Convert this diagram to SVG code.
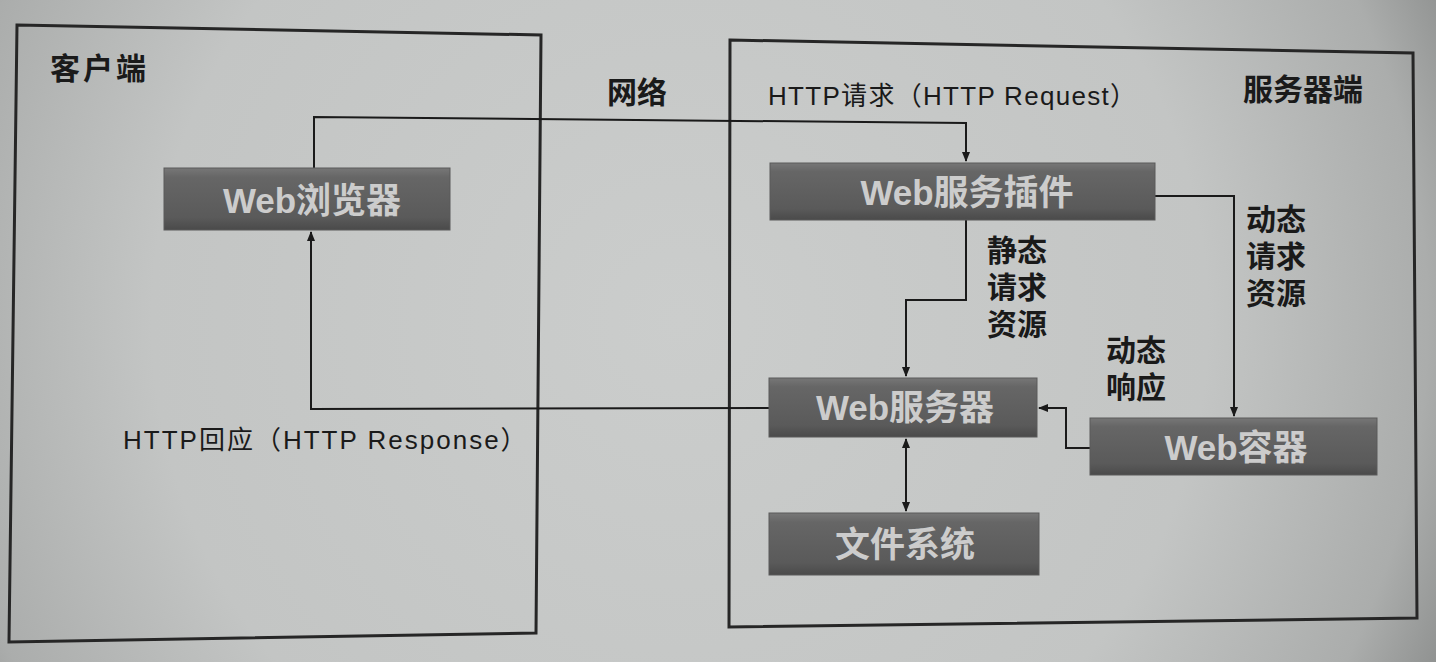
<svg xmlns="http://www.w3.org/2000/svg" width="1436" height="662" viewBox="0 0 1436 662">
<defs>
<radialGradient id="bg" gradientUnits="userSpaceOnUse" cx="680" cy="320" r="880">
<stop offset="0" stop-color="#cbcdcc"/>
<stop offset="0.6" stop-color="#c3c5c4"/>
<stop offset="0.85" stop-color="#abadac"/>
<stop offset="1" stop-color="#808281"/>
</radialGradient>
<linearGradient id="ng" x1="0" y1="0" x2="0" y2="1">
<stop offset="0" stop-color="#777"/>
<stop offset="0.15" stop-color="#666"/>
<stop offset="0.8" stop-color="#5a5a5a"/>
<stop offset="1" stop-color="#4a4a4a"/>
</linearGradient>
<marker id="ah" viewBox="0 0 10 10" refX="9" refY="5" markerWidth="10" markerHeight="10" markerUnits="userSpaceOnUse" orient="auto-start-reverse">
<path d="M0,1 L10,5 L0,9 z" fill="#1a1a1a"/>
</marker>
<style>
.frame{fill:none;stroke:#262626;stroke-width:3}
.node{fill:url(#ng);stroke:#5a5a5a;stroke-width:1}
.nt{font-family:"Liberation Sans","Noto Sans CJK SC",sans-serif;font-weight:bold;font-size:35px;fill:#cccccc;text-anchor:middle}
.lb{font-family:"Liberation Sans","Noto Sans CJK SC",sans-serif;font-weight:bold;font-size:30px;fill:#1a1a1a}
.ht{font-family:"Liberation Sans","Noto Sans CJK SC",sans-serif;font-size:26px;fill:#1a1a1a}
.cn{fill:none;stroke:#1a1a1a;stroke-width:2}
</style>
</defs>
<rect width="1436" height="662" fill="url(#bg)"/>
<g id="client-frame">
<polygon class="frame" points="17,25 541,35 536,633 9,642"/>
<text class="lb" x="50" y="79" letter-spacing="3">客户端</text>
</g>
<g id="server-frame">
<polygon class="frame" points="730,40 1413,53 1417,618 729,627"/>
<text class="lb" x="1243" y="100">服务器端</text>
</g>
<text class="lb" x="607" y="103">网络</text>
<g id="connectors">
<polyline class="cn" points="314,168 314,117 966,123 966,161" marker-end="url(#ah)"/>
<polyline class="cn" points="769,408 311,409 311,232" marker-end="url(#ah)"/>
<polyline class="cn" points="966,220 966,300 906,300 906,376" marker-end="url(#ah)"/>
<polyline class="cn" points="1155,196 1234,196 1234,416" marker-end="url(#ah)"/>
<polyline class="cn" points="1090,448 1066,448 1066,408 1039,408" marker-end="url(#ah)"/>
<line class="cn" x1="906" y1="439" x2="906" y2="511" marker-start="url(#ah)" marker-end="url(#ah)"/>
<text class="ht" x="768" y="105" letter-spacing="1.3">HTTP请求（HTTP Request）</text>
<text class="ht" x="123" y="449" letter-spacing="2">HTTP回应（HTTP Response）</text>
<text class="lb" x="987" y="261">静态</text>
<text class="lb" x="987" y="298">请求</text>
<text class="lb" x="987" y="335">资源</text>
<text class="lb" x="1246" y="230">动态</text>
<text class="lb" x="1246" y="267">请求</text>
<text class="lb" x="1246" y="304">资源</text>
<text class="lb" x="1106" y="361">动态</text>
<text class="lb" x="1106" y="398">响应</text>
</g>
<g id="browser">
<rect class="node" x="164" y="168" width="286" height="62"/>
<text class="nt" x="312" y="213">Web浏览器</text>
</g>
<g id="plugin">
<rect class="node" x="770" y="163" width="385" height="57"/>
<text class="nt" x="967" y="205">Web服务插件</text>
</g>
<g id="webserver">
<rect class="node" x="769" y="378" width="268" height="59"/>
<text class="nt" x="905" y="420">Web服务器</text>
</g>
<g id="container">
<rect class="node" x="1090" y="418" width="287" height="57"/>
<text class="nt" x="1236" y="460">Web容器</text>
</g>
<g id="filesystem">
<rect class="node" x="769" y="513" width="270" height="62"/>
<text class="nt" x="905" y="557" font-size="38">文件系统</text>
</g>
</svg>
